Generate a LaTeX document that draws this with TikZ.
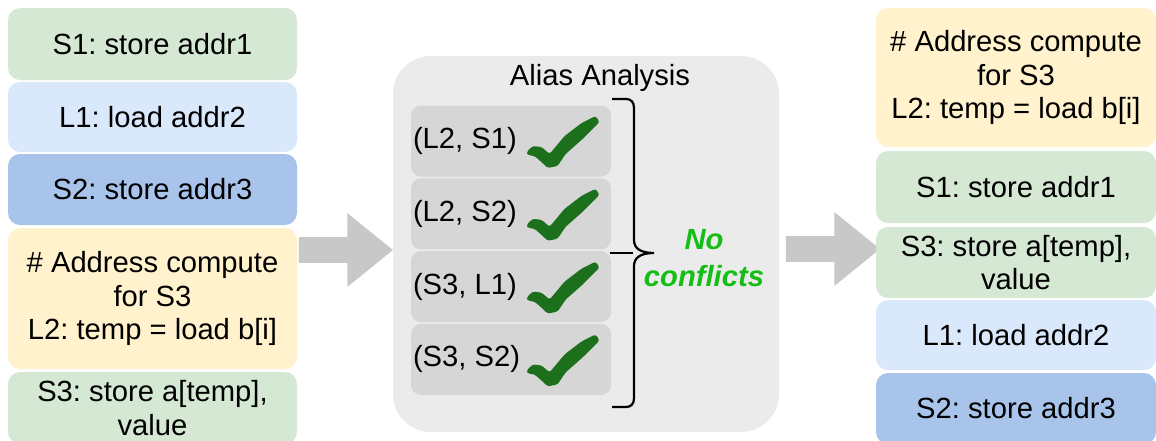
\documentclass[tikz,border=0pt]{standalone}
\usepackage{fontspec}
\setmainfont{Liberation Sans}
\usetikzlibrary{shapes.arrows}
\definecolor{storegreen}{HTML}{D5E8D4}
\definecolor{loadblue}{HTML}{DAE8FC}
\definecolor{storeblue}{HTML}{A9C4EB}
\definecolor{addryellow}{HTML}{FFF2CC}
\definecolor{aliasgray}{HTML}{EBEBEB}
\definecolor{pairgray}{HTML}{D6D6D6}
\definecolor{arrowgray}{HTML}{C8C8C8}
\definecolor{tickgreen}{RGB}{28,112,28}
\definecolor{nogreen}{RGB}{20,190,20}
\frenchspacing
\begin{document}
\begin{tikzpicture}[
    x=0.5pt, y=-0.5pt,
    every node/.style={align=center, inner sep=0pt, font=\fontsize{14.6}{16.8}\selectfont},
    instr/.style={rounded corners=6pt},
    left col/.style={instr, minimum width=144.5pt},
    right col/.style={instr, minimum width=140pt},
    pair box/.style={fill=pairgray, rounded corners=5pt, minimum width=100pt, minimum height=35.5pt},
    block arrow/.style={single arrow, fill=arrowgray, single arrow tip angle=78,
        single arrow head extend=12pt, inner sep=6.25pt, minimum height=47pt},
    pics/checkmark/.style={code={
        \fill[tickgreen, rounded corners=1.2pt] (0,11) -- (6,5) -- (15,6) -- (23,13) -- (38,-5)
            -- (55,-18) -- (69,-25) -- (73,-19) -- (56,-2) -- (39,13) -- (31,25) -- (21,27)
            -- (17,23) -- (8,15) -- (1,14) -- cycle;
    }}
]
\useasboundingbox (0,0) rectangle (1156,440);
\clip (0,0) rectangle (1156,440);

% program order before analysis
\node[left col, fill=storegreen, minimum height=36pt] (s1) at (152.5,44) {S1: store addr1};
\node[left col, fill=loadblue, minimum height=35pt] (l1) at (152.5,117) {L1: load addr2};
\node[left col, fill=storeblue, minimum height=35.5pt] (s2) at (152.5,189.5) {S2: store addr3};
\node[left col, fill=addryellow, minimum height=70.5pt] (l2) at (152.5,298.5) {\# Address compute\\for S3\\L2: temp = load b[i]};
\node[left col, fill=storegreen, minimum height=36pt] (s3) at (152.5,408) {S3: store a[temp],\\value};

% alias analysis
\node[fill=aliasgray, rounded corners=19pt, minimum width=193pt, minimum height=188pt] (alias) at (586,244) {};
\node (title) at (600,78) {Alias Analysis};
\foreach \pair [count=\i] in {{(L2, S1)}, {(L2, S2)}, {(S3, L1)}, {(S3, S2)}} {
    \node[pair box] (pair\i) at (511,{141+72.8*(\i-1)}) {};
    \node[anchor=west] (label\i) at ([xshift=1pt]pair\i.west) {\pair};
    \pic at ([xshift=58pt]pair\i.west) {checkmark};
}
\coordinate (brace tip) at (654,253);
\draw[line width=1.1pt] (612,99) -- (626,99) .. controls (631,99) and (634,102) .. (634,108)
    -- (634,240) .. controls (634,248) and (640,253) .. (brace tip)
    .. controls (640,253) and (634,258) .. (634,266)
    -- (634,398) .. controls (634,404) and (631,407) .. (626,407) -- (612,407);
\draw[line width=1.1pt] (610,253) -- (633,253);
\node[font=\fontsize{14.6}{18.5}\selectfont\bfseries\itshape, text=nogreen] (verdict) at (704,258.5) {No\\conflicts};

% arrows
\node[block arrow] (arrow in) at (338,250) {};
\node[block arrow] (arrow out) at (825,249) {};

% reordered program
\node[right col, fill=addryellow, minimum height=69.5pt] (r l2) at (1016,77.5) {\# Address compute\\for S3\\L2: temp = load b[i]};
\node[right col, fill=storegreen, minimum height=36pt] (r s1) at (1016,187) {S1: store addr1};
\node[right col, fill=storegreen, minimum height=35.5pt] (r s3) at (1016,262.5) {S3: store a[temp],\\value};
\node[right col, fill=loadblue, minimum height=35pt] (r l1) at (1016,335) {L1: load addr2};
\node[right col, fill=storeblue, minimum height=35.5pt] (r s2) at (1016,408.5) {S2: store addr3};
\end{tikzpicture}
\end{document}
